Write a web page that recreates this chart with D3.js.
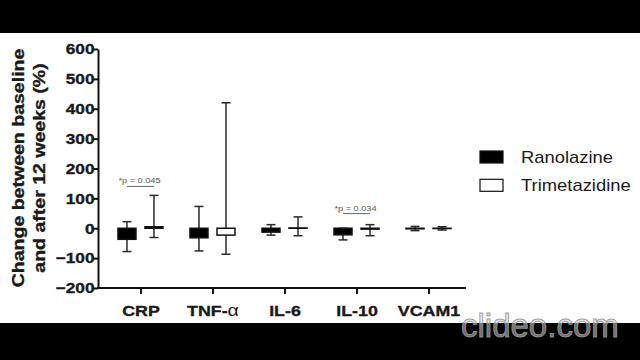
<!DOCTYPE html>
<html lang="en">
<head>
    <meta charset="utf-8">
    <script src="https://cdn.jsdelivr.net/npm/d3@7"></script>
    <style>
        body {
            margin: 0;
            background: #000;
        }

        text {
            font-family: 'Liberation Sans', Arial, sans-serif;
            fill: #1a1a1a;
        }

        .axis path,
        .axis line {
            fill: none;
            stroke: #111;
            stroke-width: 2;
        }

        .axis text, .ytitle {
            font-size: 15px;
            font-weight: bold;
            stroke: #1a1a1a;
            stroke-width: 0.35;
        }

        .whisker {
            stroke: #2a2a2a;
            stroke-width: 1.5;
        }

        .note {
            font-size: 8px;
            fill: #555;
        }
    </style>
</head>
<body>
<div id="chart"></div>

<script>

    // values (percent change)
    var categories = ["CRP", "TNF-α", "IL-6", "IL-10", "VCAM1"];
    var seriesNames = ["Ranolazine", "Trimetazidine"];

    var ranMean = [-37, -32, -13, -22, -2];
    var ranMin = [-78, -76, -23, -39, -8];
    var ranMax = [22, 73, 12, 0, 6];

    var triMean = [5, -23, 1, -3, -1];
    var triMin = [-31, -87, -25, -25, -6];
    var triMax = [110, 420, 38, 12, 5];

    var yTicks = [-200, -100, 0, 100, 200, 300, 400, 500, 600];

    var pCats = ["CRP", "IL-10"];
    var pTexts = ["*p = 0.045", "*p = 0.034"];
    var pLevels = [140, 49];

    var W = 640, H = 360;
    var stretch = 1.15; // the text in the picture runs wider than Arial

    var svg = d3.select("#chart").append("svg")
        .attr("width", W)
        .attr("height", H);

    // white panel between the black bands
    svg.append("rect").attr("width", W).attr("height", H).attr("fill", "#000");
    svg.append("rect").attr("x", 0).attr("y", 33).attr("width", W).attr("height", 290).attr("fill", "#fff");

    var plot = {left: 98, right: 466, top: 49, bottom: 288};

    var y = d3.scaleLinear()
        .domain([-200, 600])
        .range([plot.bottom, plot.top]);

    var x = d3.scalePoint()
        .domain(categories)
        .range([plot.left + 2.5, plot.right + 2.5])
        .padding(0.555);

    var offset = 13.5, barW = 18, capW = 9;

    var series = [
        {name: seriesNames[0], mean: ranMean, min: ranMin, max: ranMax, fill: "#000", dx: -offset},
        {name: seriesNames[1], mean: triMean, min: triMin, max: triMax, fill: "#fff", dx: offset}
    ];

    // y axis
    var yAxis = svg.append("g")
        .attr("class", "axis")
        .attr("transform", "translate(" + plot.left + ",0)")
        .call(d3.axisLeft(y).tickValues(yTicks).tickSize(5).tickSizeOuter(0).tickPadding(-2));
    yAxis.selectAll("text")
        .attr("x", -3.5 / stretch)
        .attr("transform", "scale(" + stretch + ",1)");

    // x axis, domain line drawn by hand so it ends where the picture does
    var xAxis = svg.append("g")
        .attr("class", "axis")
        .attr("transform", "translate(0," + plot.bottom + ")")
        .call(d3.axisBottom(x).tickSize(6).tickSizeOuter(0).tickPadding(11));
    xAxis.select(".domain").remove();
    xAxis.append("line")
        .attr("x1", plot.left - 1).attr("x2", plot.right)
        .attr("y1", 0).attr("y2", 0);
    xAxis.selectAll("text")
        .style("font-size", "15.5px")
        .attr("transform", "scale(" + stretch + ",1)")
        .each(function (d) {
            if (d === "TNF-α") {
                var t = d3.select(this).text("TNF-");
                t.append("tspan")
                    .style("font-weight", "normal")
                    .style("stroke-width", 0)
                    .style("font-size", "17px")
                    .text("α");
            }
        });

    // y title, two rotated lines
    var titleLines = ["Change between baseline", "and after 12 weeks (%)"];
    svg.selectAll(".ytitle")
        .data(titleLines)
        .enter()
        .append("text")
        .attr("class", "ytitle")
        .attr("text-anchor", "middle")
        .style("font-size", "17px")
        .attr("transform", function (d, i) {
            return "translate(" + (24 + i * 20.5) + ",168) rotate(-90) scale(" + stretch + ",1)";
        })
        .text(function (d) { return d; });

    // whiskers first, bars on top
    series.forEach(function (s) {
        var g = svg.append("g");

        g.selectAll(".stem")
            .data(categories)
            .enter()
            .append("line")
            .attr("class", "whisker")
            .attr("x1", function (d) { return x(d) + s.dx; })
            .attr("x2", function (d) { return x(d) + s.dx; })
            .attr("y1", function (d, i) { return y(s.min[i]); })
            .attr("y2", function (d, i) { return y(s.max[i]); });

        ["min", "max"].forEach(function (k) {
            g.selectAll(".cap-" + k)
                .data(categories)
                .enter()
                .append("line")
                .attr("class", "whisker")
                .attr("x1", function (d) { return x(d) + s.dx - capW / 2; })
                .attr("x2", function (d) { return x(d) + s.dx + capW / 2; })
                .attr("y1", function (d, i) { return y(s[k][i]); })
                .attr("y2", function (d, i) { return y(s[k][i]); });
        });

        g.selectAll(".bar")
            .data(categories)
            .enter()
            .append("rect")
            .attr("class", "bar")
            .attr("x", function (d) { return x(d) + s.dx - barW / 2; })
            .attr("width", barW)
            .attr("y", function (d, i) { return y(Math.max(0, s.mean[i])); })
            .attr("height", function (d, i) { return Math.abs(y(0) - y(s.mean[i])); })
            .attr("fill", s.fill)
            .attr("stroke", "#111")
            .attr("stroke-width", 1.5);
    });

    // significance notes
    pCats.forEach(function (c, i) {
        var x1 = x(c) - offset, x2 = x(c) + offset;
        svg.append("line")
            .attr("x1", x1).attr("x2", x2)
            .attr("y1", y(pLevels[i])).attr("y2", y(pLevels[i]))
            .attr("stroke", "#666")
            .attr("stroke-width", 1);
        svg.append("text")
            .attr("class", "note")
            .attr("text-anchor", "middle")
            .attr("transform", "translate(" + ((x1 + x2) / 2 - 1) + "," + (y(pLevels[i]) - 3) + ") scale(" + stretch + ",1)")
            .text(pTexts[i]);
    });

    // legend
    var legend = svg.selectAll(".legend")
        .data(series)
        .enter()
        .append("g")
        .attr("class", "legend")
        .attr("transform", function (d, i) { return "translate(480," + (151 + i * 28.3) + ")"; });

    legend.append("rect")
        .attr("width", 23)
        .attr("height", 12)
        .attr("fill", function (d) { return d.fill; })
        .attr("stroke", "#111")
        .attr("stroke-width", 1.2);

    legend.append("text")
        .attr("transform", "translate(41,12) scale(" + stretch + ",1)")
        .style("font-size", "16px")
        .text(function (d) { return d.name; });

    // watermark of the video tool
    svg.append("text")
        .attr("x", 461)
        .attr("y", 337)
        .style("font-size", "33px")
        .style("fill", "rgba(210,210,210,0.55)")
        .style("stroke", "rgba(150,150,150,0.9)")
        .style("stroke-width", 1)
        .text("clideo.com");

</script>
</body>
</html>
